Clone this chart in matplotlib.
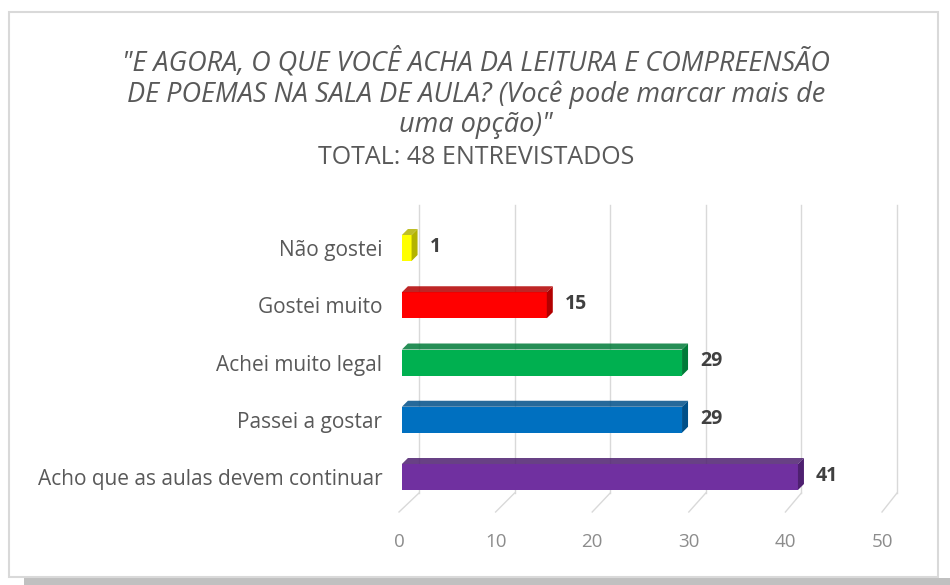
import matplotlib
matplotlib.use("Agg")
import matplotlib.pyplot as plt
from matplotlib.patches import Rectangle, Polygon

# ---- data ----
categories = ["Acho que as aulas devem continuar", "Passei a gostar",
              "Achei muito legal", "Gostei muito", "Não gostei"]
values = [41, 29, 29, 15, 1]
bar_colors = ["#7030A0", "#0070C0", "#00B050", "#FF0000", "#FFFF00"]
side_colors = ["#4E2070", "#004F88", "#007A38", "#B30000", "#B3B300"]
ticks = [0, 10, 20, 30, 40, 50]

title = ('"E AGORA, O QUE VOCÊ ACHA DA LEITURA E COMPREENSÃO\n'
         'DE POEMAS NA SALA DE AULA? (Você pode marcar mais de\n'
         'uma opção)"')
subtitle = "TOTAL: 48 ENTREVISTADOS"

W, H = 950, 585
plt.rcParams["font.family"] = ["Open Sans", "DejaVu Sans"]

fig = plt.figure(figsize=(W / 100, H / 100), dpi=100)

# chart frame + bottom shadow
fig.patches.append(Rectangle((24 / W, 0), 1 - 24 / W, 7 / H, transform=fig.transFigure,
                             facecolor="#c0c0c0", edgecolor="none", zorder=-2))
fig.patches.append(Rectangle((9 / W, 8 / H), 929 / W, 565 / H, transform=fig.transFigure,
                             facecolor="white", edgecolor="#d9d9d9", lw=1.5, zorder=-1))

# plot area: x 0 -> px 399, 50 -> px 882 ; rows 57.25 px apart
px_x0, px_unit = 399, 9.66
row_px = 57.25
y_top_px, y_bot_px = 205, 512
row0_px = 477
ax = fig.add_axes([px_x0 / W, (H - y_bot_px) / H, 50 * px_unit / W, (y_bot_px - y_top_px) / H])
ax.set_zorder(2)
ax.set_xlim(0, 50)
ylo = (row0_px - y_bot_px) / row_px
yhi = (row0_px - y_top_px) / row_px
ax.set_ylim(ylo, yhi)
ax.patch.set_alpha(0)
for s in ax.spines.values():
    s.set_visible(False)

# 3D back wall gridlines and floor lines (slight perspective: depth shrinks to the right)
gdy = 19 / row_px
for t in ticks:
    gdx = (20 - 0.1 * t) / px_unit
    ax.plot([t + gdx, t + gdx], [ylo + gdy, yhi], color="#d9d9d9", lw=1, zorder=1, clip_on=False)
    ax.plot([t, t + gdx], [ylo, ylo + gdy], color="#d9d9d9", lw=1, zorder=1, clip_on=False)

# 3D bars
bh = 26 / row_px
bdx = 6 / px_unit
bdy = 6 / row_px
for i, (v, c, sc) in enumerate(zip(values, bar_colors, side_colors)):
    x0 = 0.3
    ax.add_patch(Rectangle((x0, i - bh / 2), v, bh, facecolor=c, edgecolor="none", zorder=3))
    top = [(x0, i + bh / 2), (x0 + v, i + bh / 2), (x0 + v + bdx, i + bh / 2 + bdy),
           (x0 + bdx, i + bh / 2 + bdy)]
    ax.add_patch(Polygon(top, closed=True, facecolor=sc, edgecolor="none", zorder=3, alpha=0.85))
    side = [(x0 + v, i - bh / 2), (x0 + v + bdx, i - bh / 2 + bdy),
            (x0 + v + bdx, i + bh / 2 + bdy), (x0 + v, i + bh / 2)]
    ax.add_patch(Polygon(side, closed=True, facecolor=sc, edgecolor="none", zorder=3))
    ax.annotate(str(v), (x0 + v + bdx, i), xytext=(12, 1), textcoords="offset pixels",
                ha="left", va="center", fontsize=14, fontweight="bold", color="#404040")

ax.set_yticks(range(len(categories)))
ax.set_yticklabels(categories, fontsize=15, color="#595959")
ax.set_xticks(ticks)
ax.set_xticklabels([str(t) for t in ticks], fontsize=13.5, color="#8c8c8c")
ax.tick_params(axis="y", length=0, pad=12)
ax.tick_params(axis="x", length=0, pad=15)

# titles
fig.text(476 / W, 1 - 93 / H, title, ha="center", va="center", fontsize=19.5,
         style="italic", color="#595959", linespacing=1.1)
fig.text(476 / W, 1 - 158 / H, subtitle, ha="center", va="center", fontsize=18,
         color="#595959")

fig.savefig("out.png", dpi=100)
